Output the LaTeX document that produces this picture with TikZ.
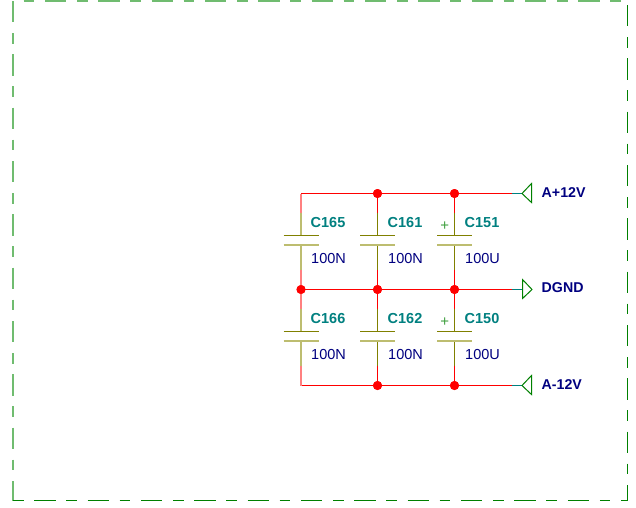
\documentclass[tikz,border=0pt]{standalone}
\usepackage{fontspec}
\setmainfont{Liberation Sans}
\definecolor{wirered}{HTML}{FF0000}
\definecolor{palered}{HTML}{FF8080}
\definecolor{leadolive}{HTML}{808000}
\definecolor{paleolive}{HTML}{BDBD70}
\definecolor{labelteal}{HTML}{008080}
\definecolor{valuenavy}{HTML}{000080}
\definecolor{framegreen}{HTML}{008000}
\definecolor{palegreen}{HTML}{70BC70}
\tikzset{
  wire/.style={draw=wirered,line width=1pt},
  widewire/.style={draw=palered,line width=2pt},
  lead/.style={draw=leadolive,line width=1pt},
  widelead/.style={draw=paleolive,line width=2pt},
  plate/.style={draw=leadolive,line width=1pt},
  wideplate/.style={draw=paleolive,line width=2pt},
  stub/.style={draw=labelteal,line width=1pt},
  port/.style={draw=framegreen,line width=1pt,fill=white,line join=miter},
  dashes/.style={dash pattern=on 21.33pt off 10.67pt on 10.67pt off 10.67pt},
  frameline/.style={draw=framegreen,line width=1pt,dashes},
  wideframe/.style={draw=palegreen,line width=2pt,dashes},
  junction/.style={circle,fill=wirered,inner sep=0pt,minimum size=9pt},
  capname/.style={anchor=base west,inner sep=0pt,text=labelteal,font=\fontsize{14.5pt}{16pt}\selectfont\bfseries},
  capvalue/.style={anchor=base west,inner sep=0pt,text=valuenavy,font=\fontsize{14.5pt}{16pt}\selectfont},
  netname/.style={anchor=base west,inner sep=0pt,text=valuenavy,font=\fontsize{14.2pt}{16pt}\selectfont\bfseries},
  polarity/.style={inner sep=0pt,text=framegreen!75,font=\fontsize{15pt}{15pt}\selectfont},
}
\begin{document}
\begin{tikzpicture}[x=1pt,y=-1pt]
\useasboundingbox[fill=white] (0,0) rectangle (636,507);
% frame
\coordinate (f1) at (13,1);
\coordinate (f2) at (627.5,1);
\coordinate (f3) at (627.5,500.5);
\coordinate (f4) at (13,500.5);
\draw[wideframe,dash phase=21.33pt] (f1) -- (f2);
\draw[wideframe] (f1) -- (f4);
\draw[frameline,dash phase=49.33pt] (f2) -- (f3);
\draw[frameline,dash phase=32pt] (f4) -- (f3);
% junctions and corners
\coordinate (tl) at (301,193.5);
\coordinate (bl) at (301,385.5);
\node[junction] (t2) at (377.5,193.5) {};
\node[junction] (t3) at (454.5,193.5) {};
\node[junction] (m1) at (301,289.5) {};
\node[junction] (m2) at (377.5,289.5) {};
\node[junction] (m3) at (454.5,289.5) {};
\node[junction] (b2) at (377.5,385.5) {};
\node[junction] (b3) at (454.5,385.5) {};
% ports
\coordinate (pa) at (512,193.5);
\coordinate (pb) at (512,289.5);
\coordinate (pc) at (512,385.5);
\coordinate (sa) at (522,193.5);
\coordinate (sb) at (522,289.5);
\coordinate (sc) at (522,385.5);
\draw[wire] (tl) -- (t2.center) -- (t3.center) -- (pa);
\draw[wire] (m1.center) -- (m2.center) -- (m3.center) -- (pb);
\draw[wire] (bl) -- (b2.center) -- (b3.center) -- (pc);
\draw[stub] (pa) -- (sa);
\draw[stub] (pb) -- (sb);
\draw[stub] (pc) -- (sc);
\draw[port] (sa) -- (531.5,183.5) -- (531.5,202.5) -- cycle;
\draw[port] (532,289.5) -- (522.5,279.5) -- (522.5,298.5) -- cycle;
\draw[port] (sc) -- (531.5,375.5) -- (531.5,394.5) -- cycle;
% capacitors: upper row
\foreach \n/\top/\bot/\xc in {a/t2/m2/377.5,b/t3/m3/454.5}{
  \coordinate (u\n1) at (\xc,212.5);
  \coordinate (u\n2) at (\xc,235.5);
  \coordinate (u\n3) at (\xc,245);
  \coordinate (u\n4) at (\xc,269.5);
  \draw[wire] (\top.center) -- (u\n1);
  \draw[lead] (u\n1) -- (u\n2);
  \draw[lead] (u\n3) -- (u\n4);
  \draw[wire] (u\n4) -- (\bot.center);
  \draw[plate] (\xc-17.5,235.5) -- (\xc+17.5,235.5);
  \draw[wideplate] (\xc-17.5,245) -- (\xc+17.5,245);
}
\coordinate (uc1) at (301,212.5);
\coordinate (uc2) at (301,235.5);
\coordinate (uc3) at (301,245);
\coordinate (uc4) at (301,269.5);
\draw[widewire] (tl) -- (uc1);
\draw[widelead] (uc1) -- (uc2);
\draw[widelead] (uc3) -- (uc4);
\draw[widewire] (uc4) -- (m1.center);
\draw[plate] (283.5,235.5) -- (318.5,235.5);
\draw[wideplate] (283.5,245) -- (318.5,245);
% capacitors: lower row
\foreach \n/\top/\bot/\xc in {a/m2/b2/377.5,b/m3/b3/454.5}{
  \coordinate (l\n1) at (\xc,308.5);
  \coordinate (l\n2) at (\xc,331.5);
  \coordinate (l\n3) at (\xc,341);
  \coordinate (l\n4) at (\xc,365.5);
  \draw[wire] (\top.center) -- (l\n1);
  \draw[lead] (l\n1) -- (l\n2);
  \draw[lead] (l\n3) -- (l\n4);
  \draw[wire] (l\n4) -- (\bot.center);
  \draw[plate] (\xc-17.5,331.5) -- (\xc+17.5,331.5);
  \draw[wideplate] (\xc-17.5,341) -- (\xc+17.5,341);
}
\coordinate (lc1) at (301,308.5);
\coordinate (lc2) at (301,331.5);
\coordinate (lc3) at (301,341);
\coordinate (lc4) at (301,365.5);
\draw[widewire] (m1.center) -- (lc1);
\draw[widelead] (lc1) -- (lc2);
\draw[widelead] (lc3) -- (lc4);
\draw[widewire] (lc4) -- (bl);
\draw[plate] (283.5,331.5) -- (318.5,331.5);
\draw[wideplate] (283.5,341) -- (318.5,341);
% junctions over wires
\foreach \j in {t2,t3,m1,m2,m3,b2,b3}{\fill[wirered] (\j.center) circle (4.5pt);}
% labels
\node[capname] (n165) at (310.5,227) {C165};
\node[capname] (n161) at (387.5,227) {C161};
\node[capname] (n151) at (464.5,227) {C151};
\node[capname] (n166) at (310.5,323) {C166};
\node[capname] (n162) at (387.5,323) {C162};
\node[capname] (n150) at (464.5,323) {C150};
\node[capvalue] (v165) at (311,263) {100N};
\node[capvalue] (v161) at (388,263) {100N};
\node[capvalue] (v151) at (465,263) {100U};
\node[capvalue] (v166) at (311,359) {100N};
\node[capvalue] (v162) at (388,359) {100N};
\node[capvalue] (v150) at (465,359) {100U};
\node[polarity] (p151) at (444.7,225.7) {+};
\node[polarity] (p150) at (444.7,321.7) {+};
\node[netname] (na) at (541.5,197) {A+12V};
\node[netname] (nb) at (541.5,292.5) {DGND};
\node[netname] (nc) at (541.5,389) {A-12V};
\end{tikzpicture}
\end{document}
